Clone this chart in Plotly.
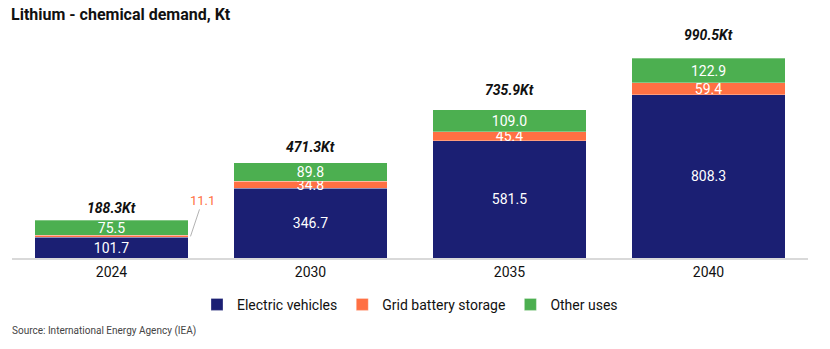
import plotly.graph_objects as go

categories = ["2024", "2030", "2035", "2040"]
ev = [101.7, 346.7, 581.5, 808.3]
grid = [11.1, 34.8, 45.4, 59.4]
other = [75.5, 89.8, 109.0, 122.9]
totals = [188.3, 471.3, 735.9, 990.5]

C_EV = "#1b1f73"
C_GRID = "#ff7043"
C_OTHER = "#4caf50"
FONT = "Roboto"

fig = go.Figure()

def seg(name, vals, color, texts):
    fig.add_trace(go.Bar(
        name=name, x=categories, y=vals, marker_color=color,
        marker_line=dict(color="rgba(255,255,255,0.6)", width=0.5),
        text=texts, textposition="inside", insidetextanchor="middle",
        constraintext="none", textangle=0,
        insidetextfont=dict(color="white", size=14, family=FONT),
        hoverinfo="skip",
    ))

seg("Electric vehicles", ev, C_EV, [f"{v:.1f}" for v in ev])
seg("Grid battery storage", grid, C_GRID,
    ["" if i == 0 else f"{v:.1f}" for i, v in enumerate(grid)])
seg("Other uses", other, C_OTHER, [f"{v:.1f}" for v in other])

# category axis: annotation x given as category index
for i, t in enumerate(totals):
    fig.add_annotation(
        x=i, y=t * 1.067 + 48, text=f"<b><i>{t:.1f}Kt</i></b>",
        showarrow=False, yanchor="middle",
        font=dict(size=14, color="#111111", family=FONT),
    )

# callout for the small 2024 grid segment
fig.add_annotation(
    x=0, y=ev[0] + grid[0] / 2, xref="x", yref="y",
    text=f"{grid[0]:.1f}", showarrow=True, arrowhead=0, arrowwidth=0.8,
    arrowcolor="#9e9e9e", ax=12, ay=-36, xshift=79,
    font=dict(size=13, color=C_GRID, family=FONT),
    standoff=0,
)

fig.add_annotation(
    xref="paper", yref="paper", x=0, y=1, yanchor="bottom",
    xanchor="left", yshift=4, xshift=-3,
    text="<b>Lithium - chemical demand, Kt</b>", showarrow=False,
    font=dict(size=16, color="#111111", family=FONT),
)
fig.add_annotation(
    xref="paper", yref="paper", x=0, xanchor="left", y=0, yanchor="top",
    yshift=-65, xshift=-2,
    text="Source: International Energy Agency (IEA)", showarrow=False,
    font=dict(size=10, color="#444444", family=FONT),
)

fig.update_layout(
    barmode="stack", bargap=0.231,
    width=830, height=349,
    margin=dict(l=12, r=22, t=30, b=91),
    paper_bgcolor="white", plot_bgcolor="white",
    font=dict(family=FONT, color="#111111"),
    showlegend=True,
    legend=dict(orientation="h", x=0.5, xanchor="center", y=-0.135,
                yanchor="top", font=dict(size=14, family=FONT),
                itemwidth=30, traceorder="normal"),
    uniformtext=dict(mode="show", minsize=8),
)
fig.update_xaxes(type="category", range=[-0.5, 3.5], showgrid=False,
                 showline=True, linecolor="#d9d9d9", linewidth=1.5,
                 tickfont=dict(size=14, color="#111111"),
                 ticks="", fixedrange=True)
fig.update_yaxes(range=[0, 1130], showgrid=False, showticklabels=False,
                 zeroline=False, showline=False, fixedrange=True)

fig.write_html("out.html")
